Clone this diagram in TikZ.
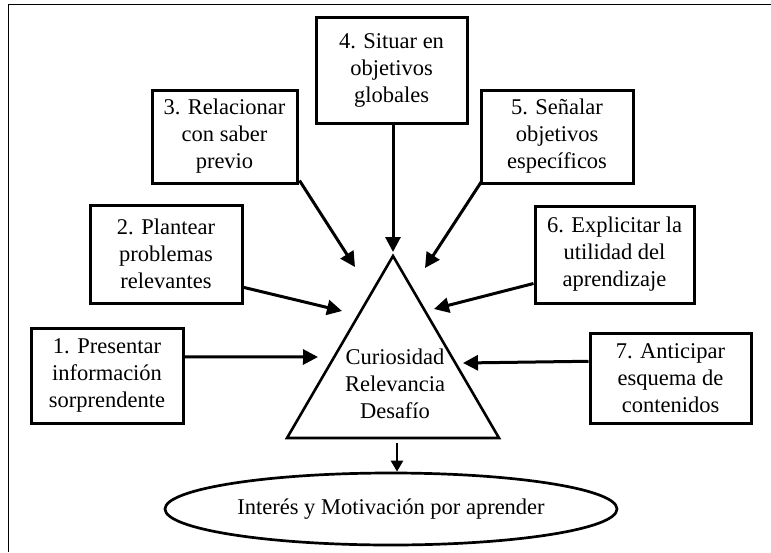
\documentclass[tikz,border=0pt]{standalone}
\usepackage{fontspec}
\setmainfont{Liberation Serif}
\usetikzlibrary{arrows.meta,calc,shapes.geometric}
\begin{document}
\begin{tikzpicture}[x=1pt,y=-1pt,
  font=\fontsize{22.5pt}{27pt}\selectfont,
  stepbox/.style={draw,line width=3pt,rectangle,inner sep=0pt,align=center},
  feed/.style={line width=3pt,-{Triangle[length=15pt,width=15pt]}},
  frameline/.style={line width=1.6pt}]
\useasboundingbox (0,0) rectangle (771,552);

% open frame: top and left edges only
\draw[frameline] (771,4.5) -- (8.5,4.5) -- (8.5,552);

% the seven step boxes
\node[stepbox,minimum width=152pt,minimum height=95pt] (b1) at (107,375.5) {1. Presentar\\información\\sorprendente};
\node[stepbox,minimum width=152pt,minimum height=98pt] (b2) at (166,254) {2. Plantear\\problemas\\relevantes};
\node[stepbox,minimum width=145pt,minimum height=93pt] (b3) at (224.5,136.5) {3. Relacionar\\con saber\\previo};
\node[stepbox,minimum width=151pt,minimum height=106pt] (b4) at (391.5,70) {4. Situar en\\objetivos\\globales};
\node[stepbox,minimum width=152pt,minimum height=93pt] (b5) at (557,136.5) {5. Señalar\\objetivos\\específicos};
\node[stepbox,minimum width=159pt,minimum height=97pt] (b6) at (614.5,254.5) {6. Explicitar la\\utilidad del\\aprendizaje};
\node[stepbox,minimum width=161pt,minimum height=90pt] (b7) at (670.5,378) {7. Anticipar\\esquema de\\contenidos};

% central triangle
\coordinate (apex) at (393,256);
\coordinate (bl) at (287,438);
\coordinate (br) at (499,438);
\draw[line width=2.6pt,line join=miter] (apex) -- (bl) -- (br) -- cycle;
\node[align=center,inner sep=0pt] (core) at (395,384) {Curiosidad\\Relevancia\\Desafío};

% arrow tips pointing at the triangle
\coordinate (t1) at (318,357);
\coordinate (t2) at (342,311);
\coordinate (t3) at (355,267);
\coordinate (t4) at (393,252);
\coordinate (t5) at (425,268);
\coordinate (t6) at (434,309);
\coordinate (t7) at (463,363);

\draw[feed] ($(b1.north east)!0.31!(b1.south east)$) -- (t1);
\draw[feed] ($(b2.south east)!0.17!(b2.north east)$) -- (t2);
\draw[feed] ($(b3.south east)+(1,-4)$) -- (t3);
\draw[feed] ($(b4.south)+(1.5,0)$) -- (t4);
\draw[feed] ($(b5.south west)+(2,-3)$) -- (t5);
\draw[feed] ($(b6.south west)!0.21!(b6.north west)$) -- (t6);
\draw[feed] ($(b7.north west)!0.32!(b7.south west)$) -- (t7);

% outcome
\node[draw,ellipse,line width=2.7pt,minimum width=452pt,minimum height=72pt,inner sep=0pt] (goal) at (391,509) {Interés y Motivación por aprender};
\coordinate (base) at (397,443);
\draw[line width=2.4pt,-{Triangle[length=11pt,width=12pt]}] (base) -- (goal.north -| base);
\end{tikzpicture}
\end{document}
